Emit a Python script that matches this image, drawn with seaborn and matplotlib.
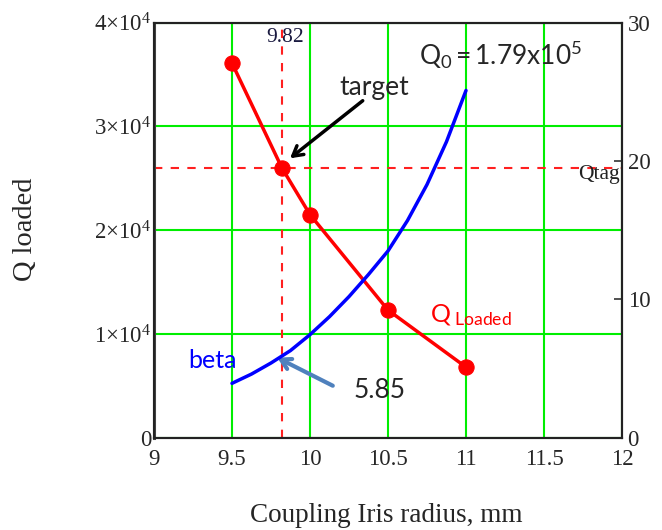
import matplotlib
matplotlib.use("Agg")
import matplotlib.pyplot as plt
import matplotlib.ticker as mticker
import seaborn as sns
import pandas as pd

# Loaded Q versus coupling iris radius (left axis)
radius_q = [9.5, 9.82, 10.0, 10.5, 11.0]
q_loaded = [36100, 26000, 21500, 12300, 6800]

# Coupling coefficient beta versus iris radius (right axis)
radius_beta = [9.5, 9.625, 9.75, 9.875, 10.0, 10.125, 10.25, 10.375, 10.5, 10.625, 10.75, 10.875, 11.0]
beta = [3.93, 4.6, 5.4, 6.3, 7.45, 8.75, 10.2, 11.8, 13.5, 15.7, 18.3, 21.4, 25.1]

# Target operating point
r_target = 9.82
q_target = 26000
beta_target = 5.85
q0_text = r"$\mathregular{Q_0 = 1.79x10^5}$"

x_ticks = [9, 9.5, 10, 10.5, 11, 11.5, 12]
q_ticks = [0, 10000, 20000, 30000, 40000]
beta_ticks = [0, 10, 20, 30]

sns.set_style("white")
plt.rcParams["mathtext.fontset"] = "stix"
serif = ["Liberation Serif", "DejaVu Serif"]
sans = ["Lato", "DejaVu Sans"]

fig = plt.figure(figsize=(6.62, 5.30), dpi=100)
ax = fig.add_axes([154 / 662, 1 - 437.7 / 530, 468 / 662, 415 / 530])
ax2 = ax.twinx()

green = "#00ee00"
ax.set_xlim(9, 12)
ax.set_ylim(0, 40000)
ax2.set_ylim(0, 30)
ax.set_xticks(x_ticks)
ax.set_yticks(q_ticks)
ax2.set_yticks(beta_ticks)
ax.grid(True, color=green, lw=1.5, zorder=0)
ax.set_axisbelow(True)


def sci_label(v, _pos):
    if v == 0:
        return "0"
    exp = len(str(int(v))) - 1
    mant = int(round(v / 10 ** exp))
    return r"$\mathregular{%d{\times}10^{%d}}$" % (mant, exp)


ax.yaxis.set_major_formatter(mticker.FuncFormatter(sci_label))
ax.xaxis.set_major_formatter(mticker.FuncFormatter(lambda v, p: f"{v:g}"))

for lab in ax.get_xticklabels() + ax.get_yticklabels() + ax2.get_yticklabels():
    lab.set_fontfamily(serif)
    lab.set_fontsize(16.5)
ax.tick_params(axis="both", length=0)
ax.tick_params(axis="x", pad=8)
ax.tick_params(axis="y", pad=2)
ax2.tick_params(axis="y", direction="in", length=6, width=1.2, pad=4, color="#333333")

# Reference cross-hair at the target point
ax.axvline(r_target, color="#ff2020", lw=1.5, ls=(0, (4, 4)), zorder=2)
ax.axhline(q_target, color="#ff2020", lw=1.5, ls=(0, (4, 4)), zorder=2)

df_q = pd.DataFrame({"radius": radius_q, "Q": q_loaded})
df_b = pd.DataFrame({"radius": radius_beta, "beta": beta})
sns.lineplot(data=df_q, x="radius", y="Q", ax=ax, color="#ff0000", lw=2.5,
             marker="o", markersize=11, markeredgecolor="#ff0000", zorder=4)
sns.lineplot(data=df_b, x="radius", y="beta", ax=ax2, color="#0000ff", lw=2.5, zorder=4)

ax.set_xlabel("")
ax.set_ylabel("")
ax2.set_ylabel("")

for sp in ax.spines.values():
    sp.set_color("#222222")
    sp.set_linewidth(1.5)
for sp in ax2.spines.values():
    sp.set_color("#222222")
    sp.set_linewidth(1.5)
ax.spines["left"].set_color("#444444")
ax.spines["left"].set_linewidth(2.2)

# Annotations
ax.text(r_target + 0.02, 38120, f"{r_target:g}", fontfamily=serif, fontsize=15.5,
        ha="center", va="baseline", color="#1a1a40")
ax.text(11.985, q_target - 1100, "Qtag", fontfamily=serif, fontsize=15.5,
        ha="right", va="baseline", color="#222222")
ax.text(10.186, 33030, "target", fontfamily=sans, fontsize=19, ha="left", va="baseline")
ax.text(10.699, 35920, q0_text, fontfamily=sans, fontsize=19, ha="left", va="baseline")
ax.text(10.769, 11180, r"$\mathregular{Q_{\ Loaded}}$", fontfamily=sans, fontsize=18,
        ha="left", va="baseline", color="#ff0000")
ax.text(9.218, 6720, "beta", fontfamily=sans, fontsize=18, ha="left", va="baseline",
        color="#0000ff")
ax.text(10.282, 3830, f"{beta_target:g}", fontfamily=sans, fontsize=19, ha="left",
        va="baseline")

ax.annotate("", xy=(9.872, 26930), xytext=(10.338, 32480),
            arrowprops=dict(arrowstyle="->,head_length=0.7,head_width=0.4",
                            color="black", lw=2.5, shrinkA=0, shrinkB=0), zorder=6)
ax.annotate("", xy=(9.79, 7710), xytext=(10.146, 5010),
            arrowprops=dict(arrowstyle="->,head_length=0.7,head_width=0.4",
                            color="#4f81bd", lw=3, shrinkA=0, shrinkB=0), zorder=6)

fig.text(25 / 662, 1 - 229.5 / 530, "Q loaded", fontfamily=serif, fontsize=20.5,
         rotation=90, ha="center", va="center")
fig.text(386 / 662, 1 - 515 / 530, "Coupling Iris radius, mm", fontfamily=serif,
         fontsize=19.5, ha="center", va="center")

fig.savefig("out.png", dpi=100)
